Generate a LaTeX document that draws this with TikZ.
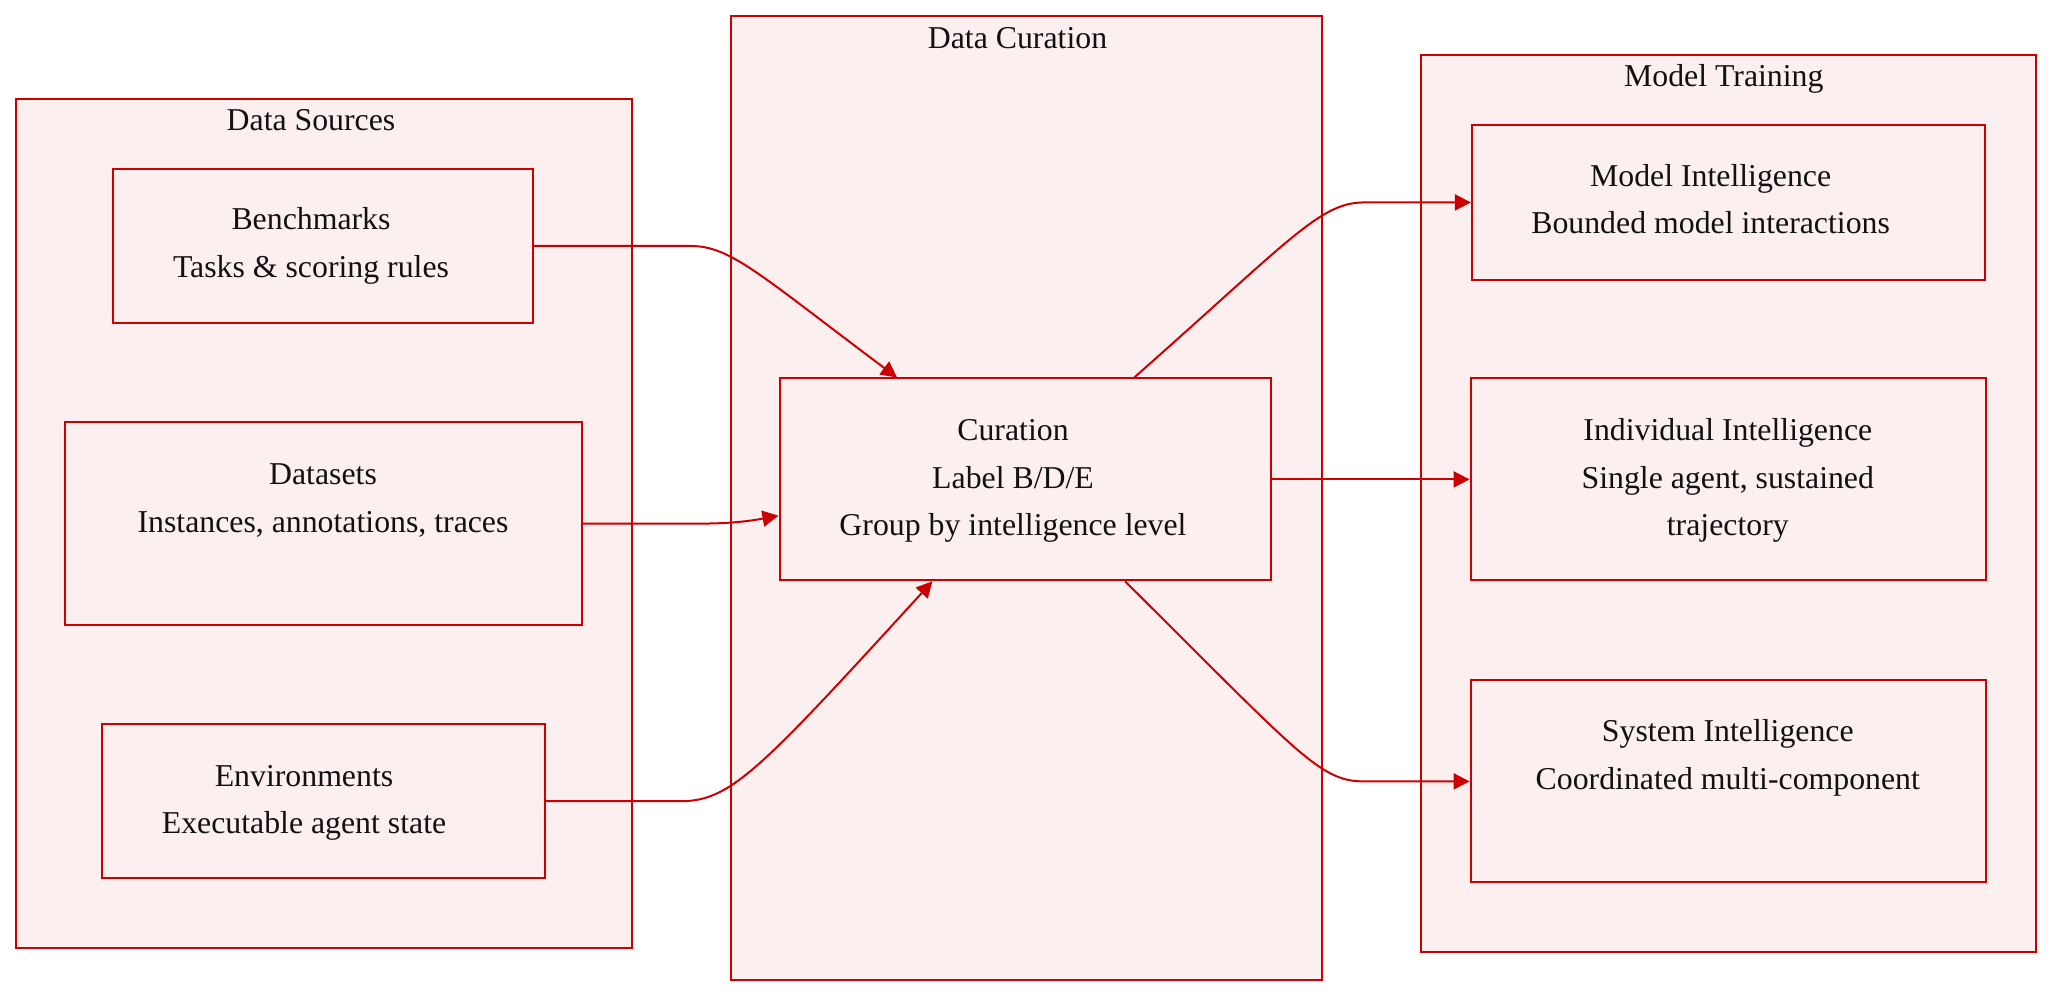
\documentclass[tikz,border=0pt]{standalone}
\usepackage{fontspec}
\setmainfont{Liberation Serif}
\usetikzlibrary{arrows.meta}
\definecolor{rd}{HTML}{CC0000}
\definecolor{pk}{HTML}{FCEFF0}
\definecolor{tx}{HTML}{111111}
\begin{document}
\begin{tikzpicture}[x=0.5pt,y=-0.5pt,
 grp/.style={draw=rd, fill=pk, line width=1pt, inner sep=0pt, rectangle},
 box/.style={draw=rd, fill=pk, line width=1pt, inner sep=0pt, rectangle},
 lbl/.style={text=tx, font=\fontsize{15.9}{23.9}\selectfont, align=center, inner sep=0pt, anchor=base},
 conn/.style={draw=rd, line width=1pt, -{Triangle[length=8pt,width=8pt]}}]
\useasboundingbox (0,0) rectangle (2068,1004);
\fill[white] (0,0) rectangle (2068,1004);
% groups
\node[grp, minimum width=308pt, minimum height=424.7pt] (ds) at (323.8,523.6) {};
\node[grp, minimum width=295.4pt, minimum height=482.1pt] (dc) at (1026.1,497.9) {};
\node[grp, minimum width=307.95pt, minimum height=448.45pt] (mt) at (1728.45,503.85) {};
% boxes
\node[box, minimum width=209.7pt, minimum height=77.15pt] (bench) at (323.1,246) {};
\node[box, minimum width=258.5pt, minimum height=101.6pt] (dset) at (323.1,523.6) {};
\node[box, minimum width=221.55pt, minimum height=77.2pt] (env) at (323.15,801.2) {};
\node[box, minimum width=245.95pt, minimum height=100.9pt] (cur) at (1025.45,479.4) {};
\node[box, minimum width=256.5pt, minimum height=77.15pt] (mi) at (1728.4,202.45) {};
\node[box, minimum width=257.8pt, minimum height=100.9pt] (ii) at (1728.4,479.4) {};
\node[box, minimum width=257.8pt, minimum height=100.9pt] (si) at (1728.4,781.4) {};
% titles
\node[lbl] (tds) at (311,131) {Data Sources};
\node[lbl] (tdc) at (1017.5,48.3) {Data Curation};
\node[lbl] (tmt) at (1723.8,87) {Model Training};
% labels
\node[lbl] (lbench1) at (311,230) {Benchmarks};
\node[lbl] (lbench2) at (311,278) {Tasks \& scoring rules};
\node[lbl] (ldset1) at (323,484.5) {Datasets};
\node[lbl] (ldset2) at (323,533) {Instances, annotations, traces};
\node[lbl] (lenv1) at (304,786.5) {Environments};
\node[lbl] (lenv2) at (304,834) {Executable agent state};
\node[lbl] (lcur1) at (1013,441) {Curation};
\node[lbl] (lcur2) at (1013,488.5) {Label B/D/E};
\node[lbl] (lcur3) at (1013,536) {Group by intelligence level};
\node[lbl] (lmi1) at (1710.6,186.7) {Model Intelligence};
\node[lbl] (lmi2) at (1710.6,233.5) {Bounded model interactions};
\node[lbl] (lii1) at (1727.8,441) {Individual Intelligence};
\node[lbl] (lii2) at (1727.8,488.5) {Single agent, sustained};
\node[lbl] (lii3) at (1727.8,536) {trajectory};
\node[lbl] (lsi1) at (1727.8,741.7) {System Intelligence};
\node[lbl] (lsi2) at (1727.8,789.5) {Coordinated multi-component};
% connectors
\draw[conn] (bench.east) -- ++(157,0) .. controls +(40,0) and (760,275) .. ([xshift=-64.2pt]cur.north);
\draw[conn] (dset.east) -- ++(118,0) .. controls +(30,0) and (750,521) .. ([yshift=-18.15pt]cur.west);
\draw[conn] (env.east) -- ++(135,0) .. controls +(50,0) and (760,770) .. ([xshift=-46.5pt]cur.south);
\draw[conn] ([xshift=54.4pt]cur.north) .. controls (1290,240) and (1320,202.45) .. ([xshift=-53.5pt]mi.west) -- (mi.west);
\draw[conn] (cur.east) -- (ii.west);
\draw[conn] ([xshift=49.8pt]cur.south) .. controls (1300,755) and (1320,781.4) .. ([xshift=-52.8pt]si.west) -- (si.west);
\end{tikzpicture}
\end{document}
